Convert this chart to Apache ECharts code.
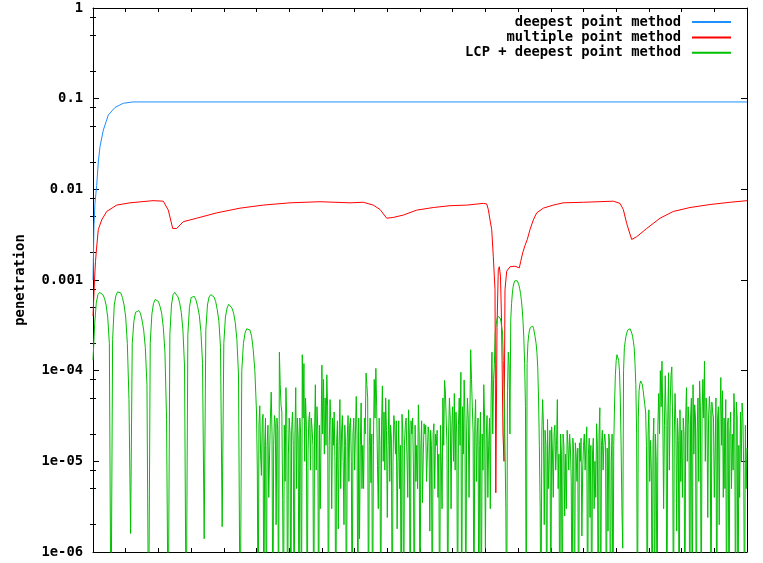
<!DOCTYPE html>
<html><head><meta charset="utf-8">
<script src="https://cdn.jsdelivr.net/npm/echarts@6/dist/echarts.min.js"></script>
<style>html,body{margin:0;padding:0;background:#fff}#c{width:763px;height:563px}</style>
</head><body><div id="c"></div>
<script>
const seriesNames = ['deepest point method', 'multiple point method', 'LCP + deepest point method'];
const seriesColors = ['#1e8fff', '#ff0000', '#00c000'];
const yTickLabels = ['1e-06', '1e-05', '1e-04', '0.001', '0.01', '0.1', '1'];
const yMinorTicks = [0.8, 0.5, 0.2, 0.08, 0.05, 0.02, 0.008, 0.005, 0.002, 8e-4, 5e-4, 2e-4,
  8e-5, 5e-5, 2e-5, 8e-6, 5e-6, 2e-6];
const xRange = [0, 20];

// deepest point method [x, penetration]
const blueData = [[0, 1e-3], [0.03, 4e-3], [0.06, 7e-3], [0.113, 0.011], [0.162, 0.02], [0.214, 0.0295],
  [0.315, 0.045], [0.468, 0.066], [0.673, 0.080], [0.927, 0.089], [1.223, 0.092], [20, 0.092]];

// multiple point method [x, penetration]
const redData = [[0, 4e-4], [0.046, 1.0e-3], [0.076, 1.6e-3], [0.107, 2.2e-3], [0.162, 3.6e-3], [0.266, 4.6e-3],
  [0.419, 5.7e-3], [0.725, 6.7e-3], [1.131, 7.1e-3], [1.835, 7.5e-3], [2.150, 7.4e-3], [2.303, 5.9e-3],
  [2.437, 3.7e-3], [2.560, 3.7e-3], [2.761, 4.4e-3], [3.171, 4.8e-3], [3.783, 5.5e-3], [4.495, 6.2e-3],
  [5.208, 6.7e-3], [6.024, 7.1e-3], [6.942, 7.3e-3], [7.859, 7.1e-3], [8.266, 7.2e-3], [8.572, 6.7e-3],
  [8.777, 6.0e-3], [8.982, 4.8e-3], [9.183, 4.9e-3], [9.489, 5.2e-3], [9.899, 5.9e-3], [10.407, 6.3e-3],
  [10.917, 6.6e-3], [11.428, 6.7e-3], [11.936, 7.0e-3], [12.040, 6.9e-3], [12.089, 6.0e-3], [12.141, 4.6e-3],
  [12.193, 3.6e-3], [12.242, 1.8e-3], [12.294, 7.8e-4], [12.318, 4.5e-6], [12.355, 3e-4], [12.394, 1.3e-3],
  [12.425, 1.4e-3], [12.462, 1.1e-3], [12.498, 3e-4], [12.538, 2e-5], [12.569, 1e-5], [12.599, 7.8e-4],
  [12.651, 1.25e-3], [12.752, 1.4e-3], [12.905, 1.42e-3], [13.037, 1.36e-3], [13.080, 1.6e-3], [13.141, 2.0e-3],
  [13.211, 2.4e-3], [13.281, 2.8e-3], [13.364, 3.6e-3], [13.465, 4.6e-3], [13.569, 5.5e-3], [13.771, 6.2e-3],
  [14.076, 6.7e-3], [14.382, 7.1e-3], [14.994, 7.2e-3], [15.911, 7.4e-3], [16.116, 7.0e-3], [16.217, 6.0e-3],
  [16.321, 4.2e-3], [16.474, 2.8e-3], [16.627, 3.0e-3], [16.933, 3.7e-3], [17.339, 4.8e-3], [17.746, 5.7e-3],
  [18.257, 6.3e-3], [18.869, 6.8e-3], [19.480, 7.2e-3], [20, 7.5e-3]];

// LCP + deepest point method, sampled every greenStep along x
const greenStep = 0.05;
const greenValues = [
  1.3e-4, 3.2e-4, 5.6e-4, 6.9e-4, 7.3e-4, 7.2e-4, 6.9e-4, 6.3e-4, 5.3e-4, 3.9e-4,
  2.0e-4, 1e-7, 2.2e-4, 5.3e-4, 6.7e-4, 7.4e-4, 7.4e-4, 7.2e-4, 6.4e-4, 5.3e-4,
  3.9e-4, 2.0e-4, 4.8e-5, 1.6e-6, 2.0e-4, 3.5e-4, 4.4e-4, 4.6e-4, 4.6e-4, 4.3e-4,
  3.6e-4, 2.8e-4, 1.8e-4, 7.0e-5, 1e-7, 2.0e-4, 4.2e-4, 5.5e-4, 6.1e-4, 6.2e-4,
  5.8e-4, 5.1e-4, 4.3e-4, 3.0e-4, 1.6e-4, 2.9e-5, 1e-7, 2.5e-4, 5.3e-4, 6.9e-4,
  7.3e-4, 7.1e-4, 6.5e-4, 5.6e-4, 4.4e-4, 2.8e-4, 1.1e-4, 1e-7, 2.5e-4, 5.0e-4,
  6.4e-4, 6.6e-4, 6.6e-4, 6.0e-4, 5.1e-4, 4.1e-4, 2.7e-4, 1.2e-4, 1.4e-6, 2.8e-4,
  5.3e-4, 6.5e-4, 6.9e-4, 6.9e-4, 6.5e-4, 5.8e-4, 4.7e-4, 3.5e-4, 1.8e-4, 1.9e-6,
  2.0e-4, 3.9e-4, 4.9e-4, 5.4e-4, 5.3e-4, 4.9e-4, 4.3e-4, 3.4e-4, 2.2e-4, 9.0e-5,
  1e-7, 1.0e-4, 2.0e-4, 2.6e-4, 2.9e-4, 2.9e-4, 2.8e-4, 2.4e-4, 1.7e-4, 1.0e-4,
  3.5e-5, 1e-7, 4.1e-5, 7e-6, 3.3e-5, 1.5e-5, 1e-7, 2.5e-5, 1.2e-5, 5.8e-5,
  1e-7, 3.2e-5, 2e-6, 2.2e-5, 1.6e-4, 4.2e-5, 3.8e-6, 2.5e-5, 6.5e-5, 1e-7,
  3e-5, 1e-7, 3.5e-5, 1e-7, 6.5e-5, 3e-5, 1e-7, 2e-5, 1.5e-4, 1.2e-4,
  5e-5, 1e-7, 2.9e-5, 8e-6, 2.3e-5, 1e-7, 7e-5, 4e-5, 1e-7, 3e-6,
  1.15e-4, 8e-5, 5e-5, 9e-5, 1e-7, 4.8e-5, 3e-6, 1.5e-5, 1e-5, 1.6e-5,
  1.8e-6, 4.8e-5, 2e-5, 1e-5, 2.5e-5, 1e-7, 3.2e-5, 2.5e-5, 1e-5, 2e-5,
  8e-6, 5.2e-5, 1e-7, 1.4e-6, 4.4e-5, 1.5e-5, 3e-5, 9.4e-5, 5e-5, 1.5e-5,
  5.8e-6, 1e-7, 8e-5, 1.06e-4, 9e-6, 3e-5, 1e-7, 6.8e-5, 3.5e-5, 5e-5,
  2.4e-6, 4.8e-5, 2.5e-5, 1e-7, 3.2e-5, 1.2e-5, 1.8e-6, 2.8e-5, 1.5e-5, 3.3e-5,
  1e-7, 2.5e-5, 1.2e-5, 3.7e-5, 1e-7, 2e-5, 8e-6, 2.5e-5, 1.5e-5, 4.2e-5,
  1e-7, 2.8e-5, 1.2e-5, 2e-5, 6e-6, 2.4e-5, 1.7e-6, 1.5e-5, 2e-5, 5e-6,
  1.5e-5, 4e-6, 1e-7, 1e-5, 5e-5, 7.8e-5, 3e-5, 1e-7, 5e-5, 3e-6,
  4e-5, 5.6e-5, 3.5e-5, 1e-7, 5e-5, 9.6e-5, 4e-5, 7.9e-5, 1e-7, 5e-5,
  4e-6, 1.7e-4, 4e-5, 1e-7, 4.8e-5, 2e-5, 1e-7, 3.5e-5, 2e-5, 7e-5,
  1.1e-6, 3.2e-5, 1.5e-5, 3e-6, 1.6e-4, 8e-5, 2.6e-4, 3.6e-4, 4.1e-4, 3.8e-4,
  3.0e-4, 1.3e-4, 1.4e-5, 1e-7, 1.6e-4, 2e-5, 5.5e-4, 8.5e-4, 9.8e-4, 1.0e-3,
  9.5e-4, 8.0e-4, 6.0e-4, 3.5e-4, 1.2e-4, 1e-7, 2.0e-4, 2.8e-4, 3.1e-4, 3.1e-4,
  2.6e-4, 2.0e-4, 1.1e-4, 1.5e-5, 1e-7, 4.8e-5, 2e-6, 1.5e-5, 2.9e-5, 1.2e-5,
  1e-7, 1.3e-5, 2e-5, 8e-6, 4.8e-5, 1.2e-5, 2e-5, 1e-7, 1.5e-5, 1.2e-5,
  2.2e-5, 8e-6, 1.4e-5, 1e-7, 1.2e-5, 1.6e-5, 6e-6, 1e-7, 1e-5, 1.5e-6,
  1.5e-5, 8e-6, 2.4e-5, 1.2e-5, 2.4e-6, 1e-7, 1.8e-5, 1e-5, 2.6e-5, 1e-7,
  3.9e-5, 1.5e-5, 8e-6, 2e-5, 1e-7, 1.7e-6, 1.5e-5, 1e-5, 1e-7, 4.4e-5,
  1.3e-4, 1.5e-4, 1.0e-4, 1.5e-5, 1.1e-6, 1.8e-4, 2.4e-4, 2.8e-4, 2.9e-4, 2.8e-4,
  2.4e-4, 1.8e-4, 7e-5, 1e-7, 6e-5, 7.7e-5, 7e-5, 5e-5, 3.5e-5, 1e-7,
  3.7e-5, 1.7e-5, 1e-7, 3e-5, 2e-5, 1e-7, 5.6e-5, 1e-4, 1.27e-4, 3e-6,
  8.8e-5, 1e-7, 9.5e-5, 4e-5, 1.1e-4, 1e-7, 5.6e-5, 1.7e-6, 1.7e-5, 3.7e-5,
  2.2e-5, 3e-5, 1e-7, 6.5e-5, 4e-5, 1e-7, 5e-5, 7e-5, 4.2e-5, 1e-7,
  5e-5, 7.7e-5, 1e-7, 8e-5, 1.27e-4, 5e-5, 2.4e-6, 5.2e-5, 1e-7, 3.5e-5,
  4e-6, 5e-5, 3e-5, 2e-6, 8.4e-5, 6e-5, 3e-5, 4.8e-5, 2.5e-5, 1e-7,
  3.5e-5, 2e-5, 5.6e-5, 1e-7, 3e-5, 1.5e-5, 3.5e-5, 4.4e-5, 8e-6, 2.5e-5,
  1.4e-5
];
// extra half-step samples in the noisy part (x = (greenMidStart + k + 0.5) * greenStep)
const greenMidStart = 100;
const greenMid = [
  8e-6, 2.5e-5, 1.2e-5, 2.8e-5, 1e-7, 3e-5, 1.5e-5, 4e-6, 3e-5, 2e-5,
  1.5e-5, 2.6e-5, 3e-5, 1e-7, 7e-5, 3.5e-5, 1e-7, 6e-6, 3e-5, 1.2e-5,
  2e-5, 2.2e-5, 1.5e-5, 2e-5, 5e-6, 1.8e-5, 3e-5, 1e-7, 3e-5, 1e-5,
  2.5e-5, 1.2e-5, 3.5e-5, 3e-5, 1.5e-5, 2e-5, 8e-6, 2.2e-5, 2.5e-5, 2e-5,
  2e-5, 1.2e-5, 1.5e-5, 4e-5, 1.5e-5, 2.5e-5, 3e-5, 3.5e-5, 1e-7, 2.8e-5,
  1.5e-5, 5e-6, 3.2e-5, 2e-6, 1.5e-5, 1.8e-5, 6e-6, 3e-5, 1e-7, 3e-5,
  2e-5, 2e-5, 3e-5, 1.5e-5, 5e-6, 5e-6, 2e-5, 7e-5, 1e-7, 3e-5,
  2e-5, 1.5e-5, 3e-5, 4e-5, 3e-6, 1.5e-5, 2.5e-5, 1e-5, 8e-6, 2.2e-5,
  1.5e-5, 6e-6, 1.8e-5, 1e-5, 2.5e-5, 2.8e-5, 1e-5, 5e-6, 1e-7, 2e-5,
  1.5e-5, 3e-5, 4e-6, 2e-5, 2.8e-5, 3e-5, 1e-7, 6e-6, 5e-6, 2e-5,
  1.4e-5, 3.5e-6, 2.6e-5, 2.5e-5, 1.2e-5, 2e-5, 2.2e-5, 1e-7, 2.6e-5, 2e-5,
  2.2e-5, 1.2e-5, 2.5e-5, 3e-6, 1.5e-5, 6e-5, 1.5e-5, 2e-5, 3e-5, 2.5e-5,
  1e-5, 8e-6, 2e-5, 2.5e-5, 1.5e-5, 1e-7, 1.2e-5, 3e-5, 2e-5, 3e-5,
  3e-5, 8e-5, 2e-5, 2.5e-5, 6e-6, 3e-5, 1.5e-5, 1e-7, 8e-6, 3e-5,
  1.8e-5, 4e-6, 3e-5, 5e-5, 2e-5, 1.2e-4, 3.2e-4, 4.0e-4, 4.1e-4, 3.5e-4,
  2.6e-4, 5e-5, 3e-6, 6e-5, 1.2e-4, 3.6e-4, 7.2e-4, 9.3e-4, 1.0e-3, 9.8e-4,
  8.8e-4, 7.1e-4, 4.8e-4, 2.3e-4, 4e-5, 1.2e-4, 2.5e-4, 3.0e-4, 3.15e-4, 2.9e-4,
  2.3e-4, 1.6e-4, 5e-5, 3e-6, 2e-5, 2.5e-5, 2.2e-5, 1e-7, 5e-6, 2.2e-5,
  2.4e-5, 4e-6, 2.5e-5, 1.5e-5, 5e-6, 1e-7, 1.2e-5, 2e-5, 2.5e-6, 3e-6,
  1.5e-5, 2e-5, 6e-6, 1.8e-5, 1e-7, 1.2e-5, 1.4e-5, 1.6e-5, 1.8e-5, 8e-6,
  2e-5, 1.5e-5, 1e-7, 1.8e-5, 1.5e-5, 1.2e-5, 3e-6, 4e-6, 1.5e-5, 2e-5,
  1e-7, 2.2e-5, 1.6e-5, 1.5e-5, 1.4e-5, 2e-5, 1e-7, 2e-5, 1.5e-5, 9e-5,
  1.5e-4, 1.3e-4, 5e-5, 3e-6, 1.0e-4, 2.1e-4, 2.6e-4, 2.9e-4, 2.9e-4, 2.6e-4,
  2.1e-4, 1.2e-4, 2e-5, 3e-5, 7.2e-5, 7.6e-5, 6e-5, 4.2e-5, 1.5e-5, 2e-5,
  6e-6, 8e-6, 1.5e-5, 1e-7, 1e-5, 2.5e-5, 2e-5, 4e-5, 3e-5, 2.5e-5,
  3e-5, 2.5e-5, 8e-6, 8.8e-5, 3e-5, 2e-5, 2.5e-5, 3e-5, 1e-7, 6e-6,
  4e-6, 2e-5, 3e-5, 1e-5, 2.5e-5, 3e-5, 1e-7, 1.2e-5, 3e-5, 2e-5,
  6e-6, 4e-5, 3e-5, 3e-5, 1e-5, 3.5e-5, 3e-5, 3.5e-5, 4.5e-5, 3e-5,
  1.2e-5, 1e-7, 4e-5, 3e-5, 1.5e-5, 4e-6, 5e-6, 1e-7, 3e-5, 2e-5,
  5e-6, 8e-6, 3e-5, 4.5e-5, 1e-7, 4e-6, 1e-5, 3e-5, 1e-7, 5e-6
];
const greenData = [];
greenValues.forEach((v, i) => {
  greenData.push([+(i * greenStep).toFixed(4), v]);
  const k = i - greenMidStart;
  if (k >= 0 && k < greenMid.length) greenData.push([+((i + 0.5) * greenStep).toFixed(4), greenMid[k]]);
});

const font = { fontFamily: "'DejaVu Sans Mono', monospace", fontWeight: 'bold', fontSize: 13.8, color: '#000' };
const axLine = { show: true, onZero: false, lineStyle: { color: '#000', width: 1 } };

function xAx(pos) {
  return { type: 'value', min: xRange[0], max: xRange[1], interval: 1, position: pos,
    axisLine: axLine, axisTick: { show: true, inside: true, length: 4, lineStyle: { color: '#000' } },
    axisLabel: { show: false }, splitLine: { show: false } };
}
function yAx(pos, minor) {
  const a = { type: 'log', logBase: 10, min: 1e-6, max: 1, splitNumber: 6, position: pos,
    axisLine: minor ? { show: false } : axLine,
    axisTick: { show: true, inside: true, length: minor ? 3 : 6, lineStyle: { color: '#000' } },
    axisLabel: { show: false }, splitLine: { show: false }, minorTick: { show: false } };
  if (minor) a.axisTick.customValues = yMinorTicks;
  return a;
}
const yMain = yAx('left', false);
yMain.axisLabel = Object.assign({ show: true, margin: 10,
  formatter: v => yTickLabels[Math.round(Math.log10(v)) + 6] }, font);
yMain.name = 'penetration';
yMain.nameLocation = 'middle';
yMain.nameGap = 66;
yMain.nameTextStyle = font;

const chart = echarts.init(document.getElementById('c'), null, { renderer: 'canvas' });
chart.setOption({
  animation: false,
  backgroundColor: '#fff',
  grid: { left: 93, right: 16, top: 8, bottom: 11, containLabel: false },
  legend: {
    orient: 'vertical', right: 26, top: 10, align: 'right',
    itemWidth: 39, itemHeight: 14, itemGap: 1.4,
    itemStyle: { opacity: 0 },
    textStyle: Object.assign({ padding: [0, 6, 0, 0] }, font),
    data: seriesNames
  },
  xAxis: [xAx('bottom'), xAx('top')],
  yAxis: [yMain, yAx('right', false), yAx('left', true), yAx('right', true)],
  series: [
    { name: seriesNames[0], data: blueData, color: seriesColors[0] },
    { name: seriesNames[1], data: redData, color: seriesColors[1] },
    { name: seriesNames[2], data: greenData, color: seriesColors[2] }
  ].map(s => ({ type: 'line', name: s.name, data: s.data, xAxisIndex: 0, yAxisIndex: 0,
    symbol: 'none', showSymbol: false, clip: true, silent: true,
    lineStyle: { width: 1, color: s.color }, itemStyle: { color: s.color } }))
});
</script>
</body></html>
